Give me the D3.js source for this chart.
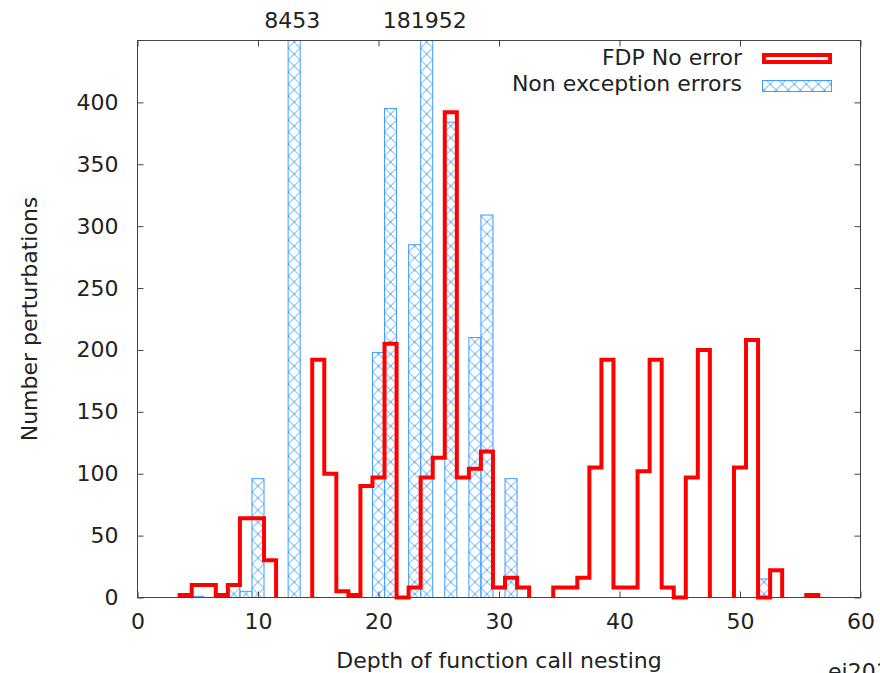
<!DOCTYPE html>
<html lang="en">
<meta charset="utf-8">
<head>
    <script src="https://d3js.org/d3.v7.min.js"></script>
    <style>
        body { margin: 0; background: #fff; }
        text { font-family: "DejaVu Sans", sans-serif; fill: #222; }
    </style>
</head>
<body>
<script>
    // FDP No error (histeps, missing depths break the line)
    var fdpDepths = [4, 5, 6, 7, 8, 9, 10, 11,
        15, 16, 17, 18, 19, 20, 21, 22, 23, 24, 25, 26, 27, 28, 29, 30, 31, 32,
        35, 36, 37, 38, 39, 40, 41, 42, 43, 44, 45, 46, 47,
        50, 51, 52, 53,
        56];
    var fdpCounts = [2, 10, 10, 2, 10, 64, 64, 30,
        192, 100, 5, 2, 90, 97, 205, 0, 8, 97, 113, 392, 97, 104, 118, 8, 16, 8,
        8, 8, 16, 105, 192, 8, 8, 102, 192, 8, 0, 97, 200,
        105, 208, 0, 22,
        2];

    // Non exception errors (boxes)
    var nonExcDepths = [5, 7, 8, 9, 10, 13, 20, 21, 23, 24, 26, 28, 29, 31, 52];
    var nonExcCounts = [1, 1, 9, 5, 96, 8453, 198, 395, 285, 181952, 384, 210, 309, 96, 15];

    var xTicks = [0, 10, 20, 30, 40, 50, 60];
    var yTicks = [0, 50, 100, 150, 200, 250, 300, 350, 400];
    var yMax = 450;

    var red = "#ff0000";
    var blue = "#3d9bff";
    var fs = "22px";

    var svg = d3.select("body")
        .append("svg")
        .attr("width", 880)
        .attr("height", 673);

    var x = d3.scaleLinear().domain([0, 60]).range([137.5, 860.5]);
    var y = d3.scaleLinear().domain([0, yMax]).range([597.5, 40.5]);
    var bw = x(1) - x(0);

    // crosshatch fill
    var defs = svg.append("defs");
    var pat = defs.append("pattern")
        .attr("id", "xhatch")
        .attr("patternUnits", "userSpaceOnUse")
        .attr("x", x(0.5))
        .attr("y", 0)
        .attr("width", bw)
        .attr("height", 12);
    pat.append("path")
        .attr("d", "M0,0L" + bw + ",12M" + bw + ",0L0,12")
        .attr("stroke", "#84bff8")
        .attr("stroke-width", 1)
        .attr("fill", "none");
    pat.append("circle").attr("cx", bw / 2).attr("cy", 6).attr("r", 0.7).attr("fill", "#3d8ff0");
    pat.append("circle").attr("cx", 0.6).attr("cy", 0.6).attr("r", 0.6).attr("fill", "#3d8ff0");

    defs.append("clipPath")
        .attr("id", "plotclip")
        .append("rect")
        .attr("x", x(0))
        .attr("y", y(yMax))
        .attr("width", x(60) - x(0))
        .attr("height", y(0) - y(yMax));

    var plot = svg.append("g").attr("clip-path", "url(#plotclip)");

    // red steps, split into runs of consecutive depths
    var runs = [];
    var cur = [];
    for (var i = 0; i < fdpDepths.length; i++) {
        if (cur.length && fdpDepths[i] != fdpDepths[i - 1] + 1) {
            runs.push(cur);
            cur = [];
        }
        cur.push({d: fdpDepths[i], v: fdpCounts[i]});
    }
    runs.push(cur);

    function stepPath(run) {
        var p = "M" + x(run[0].d - 0.5) + "," + y(0);
        run.forEach(function(r) {
            p += "V" + y(r.v) + "H" + x(r.d + 0.5);
        });
        p += "V" + y(0);
        return p;
    }

    svg.selectAll(".fdp")
        .data(runs)
        .enter()
        .append("path")
        .attr("class", "fdp")
        .attr("d", stepPath)
        .attr("fill", "none")
        .attr("stroke", red)
        .attr("stroke-width", 4)
        .attr("stroke-linejoin", "miter");

    // blue boxes
    var boxes = nonExcDepths.map(function(d, i) { return {d: d, v: nonExcCounts[i]}; });
    plot.selectAll(".nonexc")
        .data(boxes)
        .enter()
        .append("rect")
        .attr("class", "nonexc")
        .attr("x", function(d) { return x(d.d - 0.5); })
        .attr("width", bw)
        .attr("y", function(d) { return y(Math.min(d.v, yMax + 5)); })
        .attr("height", function(d) { return y(0) - y(Math.min(d.v, yMax + 5)); })
        .attr("fill", "url(#xhatch)")
        .attr("stroke", blue)
        .attr("stroke-width", 1);

    // off-scale values above the plot
    svg.selectAll(".offscale")
        .data(boxes.filter(function(d) { return d.v > yMax; }))
        .enter()
        .append("text")
        .attr("x", function(d) { return x(d.d) - 2; })
        .attr("y", 28)
        .attr("text-anchor", "middle")
        .style("font-size", fs)
        .text(function(d) { return d.v; });

    // axes, ticks inward on all sides
    function styleAxis(g) {
        g.select(".domain").remove();
        g.selectAll("line").attr("stroke", "#444");
        g.selectAll("text").style("font-size", fs).attr("fill", "#222")
            .style("font-family", "DejaVu Sans");
    }
    svg.append("g")
        .attr("transform", "translate(0," + y(0) + ")")
        .call(d3.axisBottom(x).tickValues(xTicks).tickSize(-6).tickPadding(16))
        .call(styleAxis);
    svg.append("g")
        .attr("transform", "translate(0," + y(yMax) + ")")
        .call(d3.axisTop(x).tickValues(xTicks).tickSize(-6).tickFormat(""))
        .call(styleAxis);
    svg.append("g")
        .attr("transform", "translate(" + x(0) + ",0)")
        .call(d3.axisLeft(y).tickValues(yTicks).tickSize(-6).tickPadding(19))
        .call(styleAxis);
    svg.append("g")
        .attr("transform", "translate(" + x(60) + ",0)")
        .call(d3.axisRight(y).tickValues(yTicks).tickSize(-6).tickFormat(""))
        .call(styleAxis);

    svg.append("rect")
        .attr("x", x(0))
        .attr("y", y(yMax))
        .attr("width", x(60) - x(0))
        .attr("height", y(0) - y(yMax))
        .attr("fill", "none")
        .attr("stroke", "#444")
        .attr("stroke-width", 1);

    // axis titles
    svg.append("text")
        .attr("x", (x(0) + x(60)) / 2)
        .attr("y", 668)
        .attr("text-anchor", "middle")
        .style("font-size", fs)
        .text("Depth of function call nesting");
    svg.append("text")
        .attr("transform", "translate(37," + (y(0) + y(yMax)) / 2 + ") rotate(-90)")
        .attr("text-anchor", "middle")
        .style("font-size", fs)
        .text("Number perturbations");

    // cut off at the right edge, as in the original
    svg.append("text")
        .attr("x", 828)
        .attr("y", 679)
        .style("font-size", fs)
        .text("ej2017");

    // legend
    var legend = svg.append("g");
    legend.append("text")
        .attr("x", 742).attr("y", 65)
        .attr("text-anchor", "end")
        .style("font-size", fs)
        .text("FDP No error");
    legend.append("rect")
        .attr("x", 764).attr("y", 55)
        .attr("width", 66).attr("height", 7)
        .attr("fill", "none")
        .attr("stroke", red)
        .attr("stroke-width", 4);
    legend.append("text")
        .attr("x", 742).attr("y", 91)
        .attr("text-anchor", "end")
        .style("font-size", fs)
        .text("Non exception errors");
    legend.append("rect")
        .attr("x", 762.5).attr("y", 80.5)
        .attr("width", 69).attr("height", 11)
        .attr("fill", "url(#xhatch)")
        .attr("stroke", blue)
        .attr("stroke-width", 1);
</script>
</body>
</html>
